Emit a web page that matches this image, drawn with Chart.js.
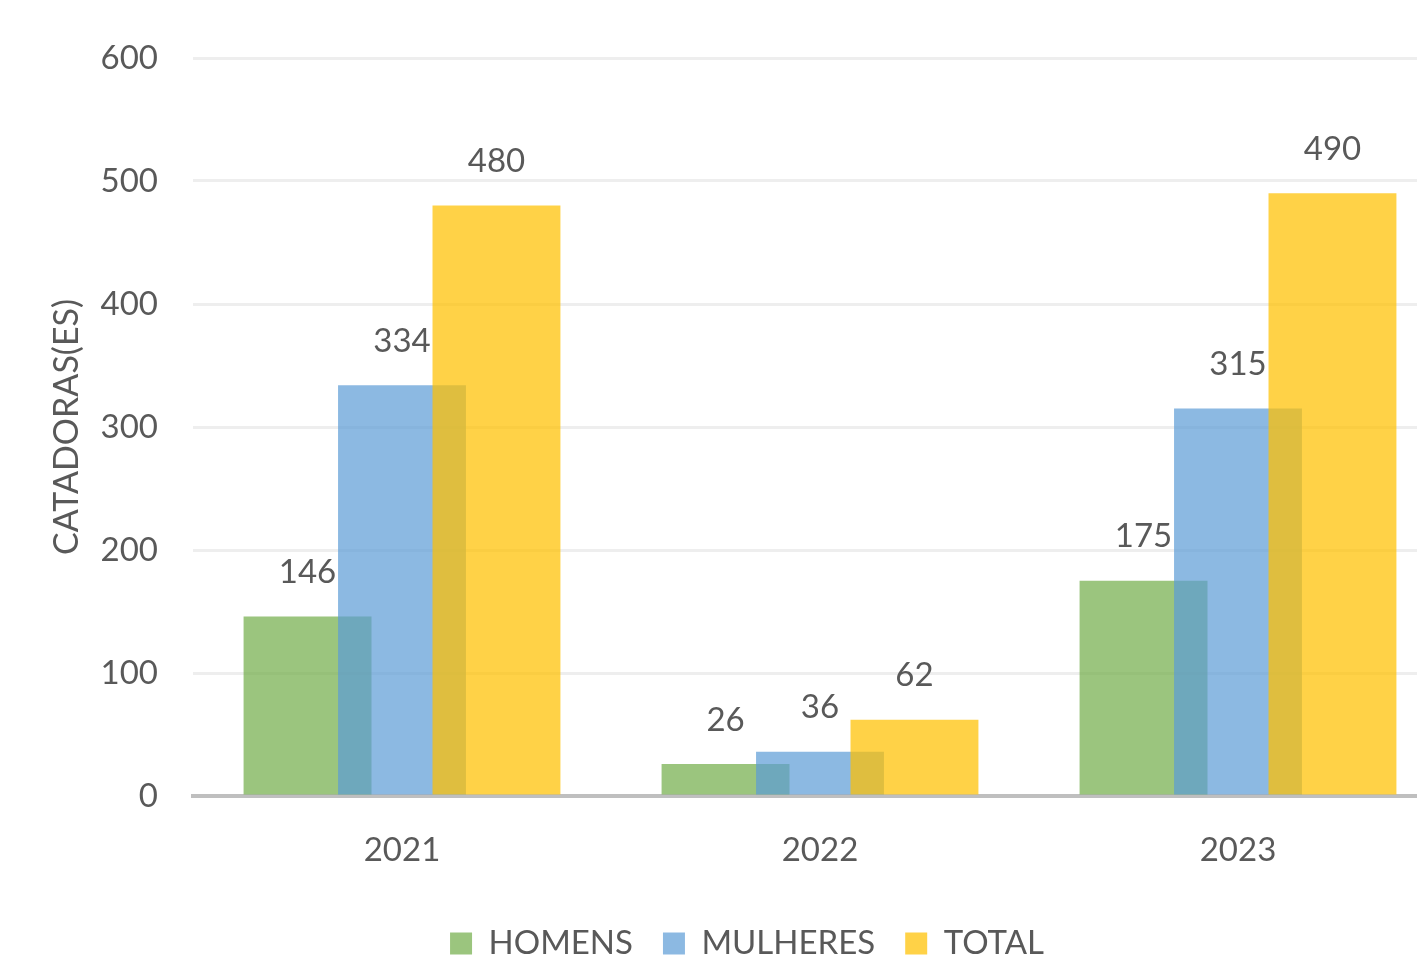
<!DOCTYPE html>
<html>
<head>
<meta charset="utf-8">
<script src="https://cdn.jsdelivr.net/npm/chart.js@4.4.0/dist/chart.umd.min.js"></script>
<style>
    html, body { margin: 0; padding: 0; background: #ffffff; overflow: hidden; }
    #wrap { width: 1417px; height: 963px; overflow: hidden; }
</style>
</head>
<body>
<div id="wrap"><canvas id="catadorasChart" width="1460" height="970"></canvas></div>
<script>
const years = ["2021", "2022", "2023"];
const homens = [146, 26, 175];
const mulheres = [334, 36, 315];
const total = [480, 62, 490];
const yTicks = [0, 100, 200, 300, 400, 500, 600];

const textColor = "#595959";
const fontFamily = "Lato, 'Open Sans', sans-serif";

// draw datasets in array order so the later bar sits over the earlier one
const drawOrderPlugin = {
    id: "drawOrder",
    beforeDatasetsDraw(chart) {
        chart.getSortedVisibleDatasetMetas().forEach((meta) => meta.controller.draw());
        return false;
    }
};

const valueLabelPlugin = {
    id: "valueLabels",
    afterDraw(chart) {
        const ctx = chart.ctx;
        ctx.save();
        ctx.font = `33px ${fontFamily}`;
        ctx.fillStyle = textColor;
        ctx.textAlign = "center";
        ctx.textBaseline = "middle";
        chart.getSortedVisibleDatasetMetas().forEach((meta) => {
            const values = chart.data.datasets[meta.index].data;
            meta.data.forEach((bar, i) => {
                ctx.fillText(String(values[i]), bar.x, bar.y - 44);
            });
        });
        ctx.restore();
    }
};

new Chart(document.getElementById("catadorasChart"), {
    type: "bar",
    data: {
        labels: years,
        datasets: [
            { label: "HOMENS", data: homens, backgroundColor: "rgba(112,173,71,0.7)" },
            { label: "MULHERES", data: mulheres, backgroundColor: "rgba(91,155,213,0.7)" },
            { label: "TOTAL", data: total, backgroundColor: "rgba(255,192,0,0.72)" }
        ]
    },
    options: {
        responsive: false,
        animation: false,
        devicePixelRatio: 1,
        categoryPercentage: 0.678,
        barPercentage: 1.354,
        layout: { padding: { left: 47, right: 13, top: 58, bottom: 0 } },
        scales: {
            x: {
                grid: { display: false },
                border: { display: true, color: "#bfbfbf", width: 4 },
                ticks: { color: textColor, padding: 27, font: { family: fontFamily, size: 33 } },
                afterFit: (scale) => { scale.height = 101; }
            },
            y: {
                min: 0,
                max: 600,
                afterBuildTicks: (scale) => { scale.ticks = yTicks.map((v) => ({ value: v })); },
                grid: { color: "#eeeeee", lineWidth: 3, drawTicks: false },
                border: { display: false },
                ticks: { color: textColor, padding: 35, font: { family: fontFamily, size: 33 } },
                title: {
                    display: true,
                    text: "CATADORAS(ES)",
                    color: textColor,
                    padding: 0,
                    font: { family: fontFamily, size: 34 }
                },
                afterFit: (scale) => { scale.width = 146; }
            }
        },
        plugins: {
            legend: {
                position: "bottom",
                labels: {
                    color: textColor,
                    boxWidth: 22,
                    boxHeight: 22,
                    padding: 30,
                    font: { family: fontFamily, size: 33 }
                }
            },
            tooltip: { enabled: false }
        }
    },
    plugins: [drawOrderPlugin, valueLabelPlugin]
});
</script>
</body>
</html>
